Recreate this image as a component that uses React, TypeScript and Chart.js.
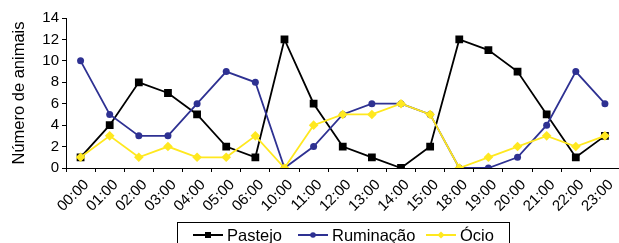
import React, { useEffect, useRef } from "react";
import { Chart, registerables } from "chart.js";

Chart.register(...registerables);

const hours = [
  "00:00", "01:00", "02:00", "03:00", "04:00", "05:00", "06:00", "10:00", "11:00", "12:00",
  "13:00", "14:00", "15:00", "18:00", "19:00", "20:00", "21:00", "22:00", "23:00",
];
const pastejo = [1, 4, 8, 7, 5, 2, 1, 12, 6, 2, 1, 0, 2, 12, 11, 9, 5, 1, 3];
const ruminacao = [10, 5, 3, 3, 6, 9, 8, 0, 2, 5, 6, 6, 5, 0, 0, 1, 4, 9, 6];
const ocio = [1, 3, 1, 2, 1, 1, 3, 0, 4, 5, 5, 6, 5, 0, 1, 2, 3, 2, 3];
const seriesNames = ["Pastejo", "Ruminação", "Ócio"];
const yAxisTitle = "Número de animais";

const FONT = '"Liberation Sans", Arial, sans-serif';
const BLACK = "#000000";
const BLUE = "#2E3192";
const YELLOW = "#FFE81F";

const legendPlugin = {
  id: "boxLegend",
  afterDraw(chart: any) {
    const ctx = chart.ctx as CanvasRenderingContext2D;
    ctx.save();
    ctx.strokeStyle = "#000";
    ctx.lineWidth = 1;
    ctx.strokeRect(177.5, 222.5, 332, 40);
    const starts = [193, 298, 426];
    const y = 235;
    chart.data.datasets.forEach((ds: any, i: number) => {
      const x0 = starts[i];
      ctx.strokeStyle = ds.borderColor;
      ctx.fillStyle = ds.pointBackgroundColor;
      ctx.lineWidth = 2;
      ctx.beginPath();
      ctx.moveTo(x0, y);
      ctx.lineTo(x0 + 30, y);
      ctx.stroke();
      const cx = x0 + 15;
      ctx.beginPath();
      if (i === 0) {
        ctx.rect(cx - 3, y - 3, 6, 6);
      } else if (i === 1) {
        ctx.arc(cx, y, 2.8, 0, Math.PI * 2);
      } else {
        ctx.moveTo(cx, y - 3.6);
        ctx.lineTo(cx + 3.6, y);
        ctx.lineTo(cx, y + 3.6);
        ctx.lineTo(cx - 3.6, y);
        ctx.closePath();
      }
      ctx.fill();
      ctx.fillStyle = "#000";
      ctx.font = `16.5px ${FONT}`;
      ctx.textBaseline = "alphabetic";
      ctx.textAlign = "left";
      ctx.fillText(ds.label, x0 + 34, 241);
    });
    ctx.restore();
  },
};

export default function App() {
  const ref = useRef<HTMLCanvasElement | null>(null);
  useEffect(() => {
    if (!ref.current) return;
    const chart = new Chart(ref.current, {
      type: "line",
      data: {
        labels: hours,
        datasets: [
          {
            label: seriesNames[0],
            data: pastejo,
            borderColor: BLACK,
            backgroundColor: BLACK,
            pointBackgroundColor: BLACK,
            pointBorderColor: BLACK,
            pointStyle: "rect",
            pointRadius: 5.5,
            pointBorderWidth: 0,
            borderWidth: 1.8,
            order: 3,
          },
          {
            label: seriesNames[1],
            data: ruminacao,
            borderColor: BLUE,
            backgroundColor: BLUE,
            pointBackgroundColor: BLUE,
            pointBorderColor: BLUE,
            pointStyle: "circle",
            pointRadius: 3.5,
            pointBorderWidth: 0,
            borderWidth: 1.8,
            order: 2,
          },
          {
            label: seriesNames[2],
            data: ocio,
            borderColor: YELLOW,
            backgroundColor: YELLOW,
            pointBackgroundColor: YELLOW,
            pointBorderColor: YELLOW,
            pointStyle: "rectRot",
            pointRadius: 4.8,
            pointBorderWidth: 0,
            borderWidth: 1.8,
            order: 1,
          },
        ],
      },
      options: {
        animation: false,
        responsive: false,
        maintainAspectRatio: false,
        layout: { padding: { left: 0, right: 4, top: 18, bottom: 0 } },
        plugins: {
          legend: { display: false },
          tooltip: { enabled: false },
        },
        scales: {
          x: {
            type: "category",
            offset: true,
            grid: {
              offset: true,
              drawOnChartArea: false,
              drawTicks: true,
              tickLength: 4,
              color: "#000",
            },
            border: { display: true, color: "#000", width: 1 },
            ticks: {
              minRotation: 45,
              maxRotation: 45,
              autoSkip: false,
              color: "#000",
              padding: 4,
              labelOffset: 6,
              font: { family: FONT, size: 15 },
            },
            afterFit: (scale: any) => {
              scale.height = 75;
            },
          },
          y: {
            min: 0,
            max: 14,
            grid: {
              drawOnChartArea: false,
              drawTicks: true,
              tickLength: 4,
              color: "#000",
            },
            border: { display: true, color: "#000", width: 1 },
            ticks: {
              stepSize: 2,
              color: "#000",
              padding: 3,
              font: { family: FONT, size: 15 },
            },
            title: {
              display: true,
              text: yAxisTitle,
              color: "#000",
              font: { family: FONT, size: 16.5 },
              padding: { top: 10, bottom: 0 },
            },
            afterFit: (scale: any) => {
              scale.width = 66;
            },
          },
        },
      },
      plugins: [legendPlugin],
    });
    return () => chart.destroy();
  }, []);
  return (
    <div
      style={{
        position: "fixed",
        left: 0,
        top: 0,
        width: 619,
        height: 243,
        overflow: "hidden",
        background: "#fff",
      }}
    >
      <canvas ref={ref} width={625} height={243} style={{ display: "block", width: 625, height: 243 }} />
    </div>
  );
}
